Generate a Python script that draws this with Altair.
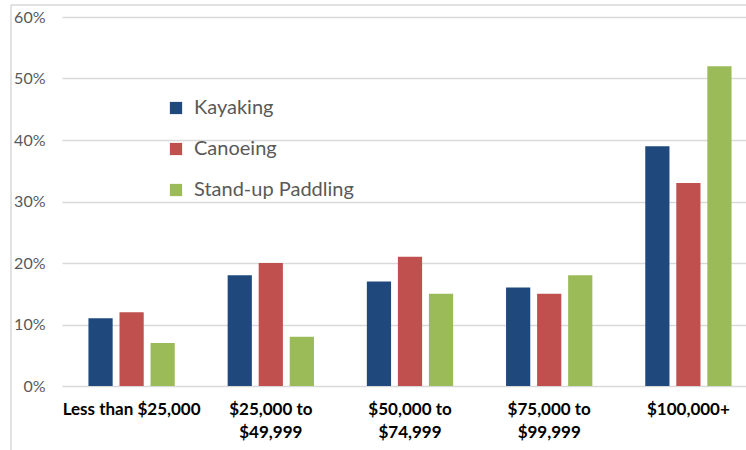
import altair as alt
import pandas as pd

categories = ["Less than $25,000", "$25,000 to $49,999", "$50,000 to $74,999",
              "$75,000 to $99,999", "$100,000+"]
activities = ["Kayaking", "Canoeing", "Stand-up Paddling"]
kayaking = [0.11, 0.18, 0.17, 0.16, 0.39]
canoeing = [0.12, 0.20, 0.21, 0.15, 0.33]
sup = [0.07, 0.08, 0.15, 0.18, 0.52]
colors = ["#1F497D", "#C0504D", "#9BBB59"]
y_ticks = [0, 0.1, 0.2, 0.3, 0.4, 0.5, 0.6]

rows = []
for act, vals in zip(activities, [kayaking, canoeing, sup]):
    for c, v in zip(categories, vals):
        rows.append({"income": c, "activity": act, "value": v})
df = pd.DataFrame(rows)

label_expr = ("indexof(datum.label, ' to ') > 0 ? "
              "[slice(datum.label, 0, indexof(datum.label, ' to ') + 3), "
              "slice(datum.label, indexof(datum.label, ' to ') + 4)] : datum.label")

bars = alt.Chart(df).mark_bar().encode(
    x=alt.X("income:N", sort=categories, title=None,
            scale=alt.Scale(range=[0, 696], paddingInner=0.38, paddingOuter=0.19),
            axis=alt.Axis(labelAngle=0, labelExpr=label_expr, ticks=False, domain=False,
                          labelFont="Lato", labelFontSize=17, labelFontWeight="bold",
                          labelColor="#000000", labelPadding=15, labelLineHeight=23,
                          labelBaseline="top")),
    xOffset=alt.XOffset("activity:N", sort=activities,
                        scale=alt.Scale(paddingInner=0.22, paddingOuter=0)),
    y=alt.Y("value:Q", title=None, scale=alt.Scale(domain=[0, 0.6]),
            axis=alt.Axis(format=".0%", values=y_ticks, ticks=False, domain=False,
                          labelFont="Lato", labelFontSize=16, labelColor="#595959",
                          labelPadding=17, gridColor="#d9d9d9", gridWidth=1.3)),
    color=alt.Color("activity:N", sort=activities,
                    scale=alt.Scale(domain=activities, range=colors),
                    legend=alt.Legend(title=None, orient="none", legendX=104, legendY=81,
                                      symbolType="square", symbolSize=150,
                                      symbolStrokeWidth=0, labelFont="Lato",
                                      labelFontSize=20, labelColor="#595959",
                                      rowPadding=21, labelOffset=8)),
)

border_data = alt.Data(values=[{"k": 1}])
left_border = alt.Chart(border_data).mark_rule(color="#d9d9d9", strokeWidth=1.5).encode(
    x=alt.value(-51), y=alt.value(-12), y2=alt.value(440))
top_border = alt.Chart(border_data).mark_rule(color="#d9d9d9", strokeWidth=1.5).encode(
    x=alt.value(-51), x2=alt.value(690), y=alt.value(-12))

chart = alt.layer(bars, left_border, top_border).properties(
    width=684, height=369, autosize="none",
    padding={"left": 62, "top": 17, "right": 0, "bottom": 64},
    background="white",
).configure_view(stroke=None)

chart.save("out.html", embed_options={"renderer": "svg", "actions": False})
